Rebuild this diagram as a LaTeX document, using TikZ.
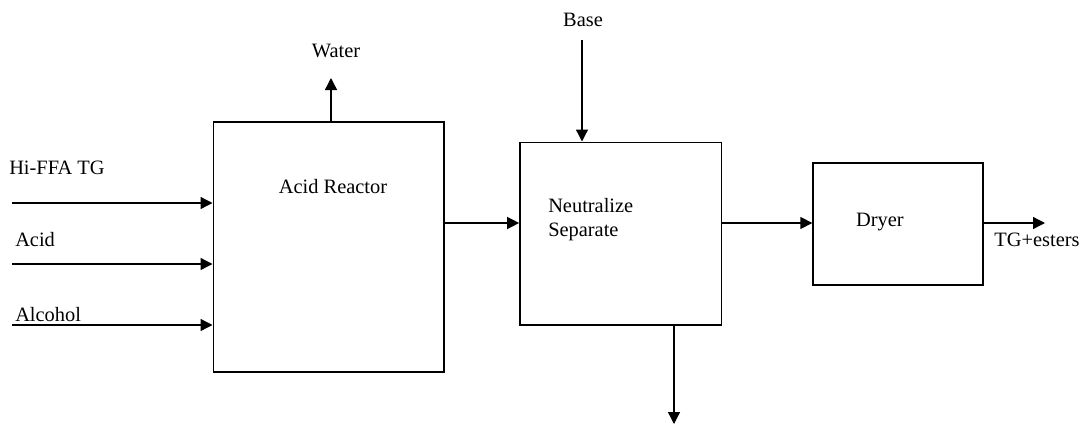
\documentclass[tikz,border=0pt]{standalone}
\usepackage{fontspec}
\setmainfont{Liberation Serif}
\usetikzlibrary{arrows.meta}

\tikzset{
    unit/.style={draw, line width=1pt, rectangle, inner sep=0pt},
    flow/.style={line width=1pt, -{Triangle[length=9pt,width=9pt]}},
    lbl/.style={inner sep=0pt, font=\fontsize{15.3}{18}\selectfont}
}

\begin{document}
\begin{tikzpicture}[x=0.75pt,y=-0.75pt]
        \useasboundingbox (0,0) rectangle (1083,425);
        % process units
        \node[unit, minimum width=173pt, minimum height=187.5pt] (reactor) at (328.5,247) {};
        \node[unit, minimum width=151pt, minimum height=137pt] (neutral) at (620.5,233.5) {};
        \node[unit, minimum width=127.5pt, minimum height=91.5pt] (dryer) at (898,224) {};
        \node[lbl] (reactortxt) at (333,187) {Acid Reactor};
        \node[lbl, anchor=west, align=left] (neutraltxt) at (548,219.5) {Neutralize\\Separate};
        \node[lbl] (dryertxt) at (880,222) {Dryer};
        % feeds
        \coordinate (ffa) at (12,203);
        \coordinate (acid) at (12,264);
        \coordinate (alc) at (12,325);
        \node[lbl, anchor=west] (ffatxt) at (9,168) {Hi-FFA TG};
        \node[lbl, anchor=west] (acidtxt) at (15,240) {Acid};
        \node[lbl, anchor=west] (alctxt) at (15,315) {Alcohol};
        \draw[flow] (ffa) -- (ffa -| reactor.west);
        \draw[flow] (acid) -- (acid -| reactor.west);
        \draw[flow] (alc) -- (alc -| reactor.west);
        % water off the top
        \node[lbl] (water) at (336,51) {Water};
        \coordinate (waterend) at (331,78);
        \draw[flow] (waterend |- reactor.north) -- (waterend);
        % main line
        \coordinate (mid) at (444,223);
        \draw[flow] (mid -| reactor.east) -- (mid -| neutral.west);
        \draw[flow] (mid -| neutral.east) -- (mid -| dryer.west);
        \coordinate (prod) at (1045,223);
        \draw[flow] (prod -| dryer.east) -- (prod);
        \node[lbl] (prodtxt) at (1037,240) {TG+esters};
        % base in, waste out
        \node[lbl] (base) at (583,20) {Base};
        \coordinate (basestart) at (582,40);
        \draw[flow] (basestart) -- (basestart |- neutral.north);
        \coordinate (waste) at (674,424);
        \draw[flow] (waste |- neutral.south) -- (waste);
    \end{tikzpicture}
\end{document}
